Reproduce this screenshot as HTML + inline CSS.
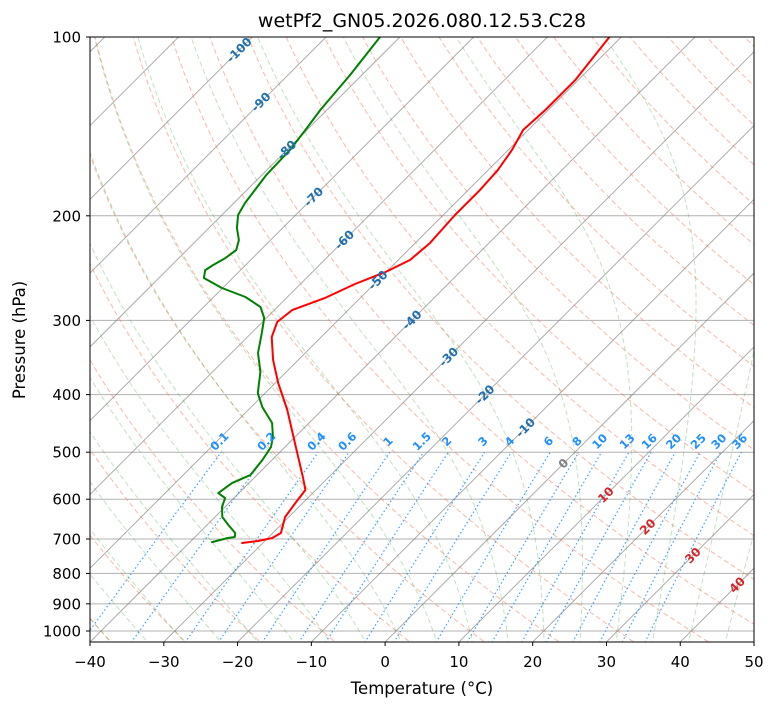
<!DOCTYPE html>
<html><head><meta charset="utf-8"><style>
html,body{margin:0;padding:0;background:#fff;}
svg{display:block;font-family:"DejaVu Sans","Liberation Sans",sans-serif;}
</style></head><body>
<svg id="chart" width="775" height="708" viewBox="0 0 775 708" xmlns="http://www.w3.org/2000/svg">
<defs><clipPath id="clip"><rect x="90" y="37" width="664" height="605"/></clipPath></defs>
<rect x="0" y="0" width="775" height="708" fill="#fff"/>
<text x="422" y="27" font-size="19" text-anchor="middle">wetPf2_GN05.2026.080.12.53.C28</text>
<g id="plot" clip-path="url(#clip)"></g>
<g id="labels"></g>
<rect x="90" y="37" width="664" height="605" fill="none" stroke="#000" stroke-width="1"/>
<g id="axes"></g>
<text x="422" y="694" font-size="16.5" text-anchor="middle">Temperature (°C)</text>
<text x="25" y="340" font-size="16.5" text-anchor="middle" transform="rotate(-90 25 340)">Pressure (hPa)</text>
</svg>
<script>
const tempP = [100,118.1,132.7,143.4,155.0,167.4,181.2,199.4,222.3,237.4,248.7,260.5,275.1,288.2,301.8,320.0,349.8,382.4,424.6,482.5,550.6,579,608.9,642.9,683.9,697.3,705.6,711.1];
const tempT = [-51.6,-50.4,-50.4,-50.7,-49.5,-48.7,-48.4,-48.4,-48.0,-48.4,-50.1,-52.6,-54.8,-57.6,-58.0,-56.7,-53.4,-49.6,-44.7,-39.2,-33.5,-31.4,-31.0,-30.5,-28.9,-29.4,-30.9,-32.8];
const dewP = [100,115.9,132.7,143.4,155.0,170.7,190.3,199.4,209.7,219.7,228.4,235.6,242.0,246.8,254.5,264.6,274.0,284.8,297.2,315.0,340.4,366.4,397.6,419.7,446.5,471.4,490.1,515.4,546.4,563.6,585.9,597.3,618.4,642.9,663.1,683.9,694.7,697.3,708.5];
const dewT = [-82.7,-81.6,-80.9,-80.2,-79.6,-79.4,-78.5,-77.8,-76.2,-74.3,-73.3,-73.7,-74.4,-74.8,-73.9,-70.1,-65.7,-62.3,-60.3,-58.6,-56.4,-53.5,-51.0,-48.5,-45.0,-43.0,-41.9,-41.3,-40.9,-42.3,-42.8,-41.2,-40.4,-39.0,-37.1,-35.1,-34.6,-35.4,-37.0];
const pressureTicks = [100,200,300,400,500,600,700,800,900,1000];
const tempTicks = [-40,-30,-20,-10,0,10,20,30,40,50];
const mixingRatios = [0.1,0.2,0.4,0.6,1,1.5,2,3,4,6,8,10,13,16,20,25,30,36];
const isoLabelVals = [-100,-90,-80,-70,-60,-50,-40,-30,-20,-10,0,10,20,30,40];
const isoLabelP = [105.2,128.7,155.0,185.9,219.6,256.7,299.5,345.8,400,454.8,522.6,590.2,667.8,746.4,836.7];

const NS='http://www.w3.org/2000/svg';
const L=90,R=754,T0=37,B=642,PXC=7.378,DEC=594;
function py(p){return T0+DEC*Math.log10(p/100);}
function tx(t,p){const y=py(p);return L+(t+40)*PXC+(B-y);}
function mk(tag,attrs,parent){const e=document.createElementNS(NS,tag);for(const k in attrs)e.setAttribute(k,attrs[k]);parent.appendChild(e);return e;}
const plot=document.getElementById('plot'),axes=document.getElementById('axes'),labels=document.getElementById('labels');
const pLevels=[];for(let p=1060;p>=95;p-=5)pLevels.push(p);
function pathFrom(fn){let d='';pLevels.forEach((p,i)=>{const t=fn(p);d+=(i?'L':'M')+tx(t,p).toFixed(1)+' '+py(p).toFixed(1);});return d;}

pressureTicks.forEach(p=>{
  const g=mk('line',{x1:L,x2:R,y1:py(p),y2:py(p),stroke:'#b0b0b0','stroke-width':1},plot);
  
  
});
for(let t=-130;t<=50;t+=10){
  const l=mk('line',{x1:tx(t,1060),y1:py(1060),x2:tx(t,95),y2:py(95),stroke:'#808080','stroke-opacity':0.65,'stroke-width':1},plot);
  
  
}
for(let th=-40;th<=210;th+=10){
  const e=mk('path',{d:pathFrom(p=>(th+273.15)*Math.pow(p/1000,0.2857)-273.15),fill:'none',stroke:'#f4764f','stroke-opacity':0.5,'stroke-width':1,'stroke-dasharray':'5,3'},plot);
  
  
}
function es(tc){return 6.112*Math.exp(17.67*tc/(tc+243.5));}
function dTdp(p,T){const tc=T-273.15,e=es(tc),rs=0.622*e/(p-e),Lv=2.501e6,Rd=287.04,Cp=1005.7;
  return (1/p)*(Rd*T+Lv*rs)/(Cp+(Lv*Lv*rs*0.622)/(Rd*T*T));}
function moist(t0){const res={};let T=t0+273.15;res[1000]=T;
  for(let p=1000;p>95;p-=5){const h=-5;const k1=dTdp(p,T),k2=dTdp(p+h/2,T+h/2*k1),k3=dTdp(p+h/2,T+h/2*k2),k4=dTdp(p+h,T+h*k3);T+=h/6*(k1+2*k2+2*k3+k4);res[p-5]=T;}
  T=t0+273.15;for(let p=1000;p<1060;p+=5){const h=5;const k1=dTdp(p,T),k2=dTdp(p+h/2,T+h/2*k1),k3=dTdp(p+h/2,T+h/2*k2),k4=dTdp(p+h,T+h*k3);T+=h/6*(k1+2*k2+2*k3+k4);res[p+5]=T;}
  return res;}
for(let t0=-50;t0<=50;t0+=5){
  const m=moist(t0);
  const e=mk('path',{d:pathFrom(p=>m[p]-273.15),fill:'none',stroke:'#2ca02c','stroke-opacity':0.3,'stroke-width':1,'stroke-dasharray':'5,3'},plot);
  
  
}
function tdFromW(w,p){const e=p*w/(622+w);const a=Math.log(e/6.112);return 243.5*a/(17.67-a);}
mixingRatios.forEach(w=>{
  let d='';let i=0;for(let p=1060;p>=500;p-=10){d+=(i++?'L':'M')+tx(tdFromW(w,p),p).toFixed(1)+' '+py(p).toFixed(1);}
  const e=mk('path',{d:d,fill:'none',stroke:'#1e90ff','stroke-opacity':0.85,'stroke-width':1.2,'stroke-dasharray':'1.5,2.5'},plot);
  
  
  const x=tx(tdFromW(w,500),500)+1,y=py(500)-8;
  const t=mk('text',{x:x,y:y,'font-size':11.5,'font-weight':'bold',fill:'#1e90ff','text-anchor':'middle',transform:`rotate(-45 ${x} ${y})`},labels);
  t.textContent=String(w);
  
  
});
isoLabelVals.forEach((v,i)=>{
  const p=isoLabelP[i];const x=tx(v,p),y=py(p);
  const col=v<0?'#2070b0':(v===0?'#808080':'#d62728');
  const t=mk('text',{x:x,y:y+4,'font-size':12,'font-weight':'bold',fill:col,'text-anchor':'middle',transform:`rotate(-45 ${x} ${y})`},labels);
  t.textContent=String(v);
  
  
});
function profile(P,Tv,color,name){
  let d='';P.forEach((p,i)=>{d+=(i?'L':'M')+tx(Tv[i],p).toFixed(1)+' '+py(p).toFixed(1);});
  const e=mk('path',{d:d,fill:'none',stroke:color,'stroke-width':2,'stroke-linejoin':'round','stroke-linecap':'round'},plot);
  
  
}
profile(tempP,tempT,'#ff0000','temperature-profile');
profile(dewP,dewT,'#008000','dewpoint-profile');
pressureTicks.forEach(p=>{
  const y=py(p);
  mk('line',{x1:L-4,x2:L,y1:y,y2:y,stroke:'#000'},axes);
  const t=mk('text',{x:L-9,y:y+5.5,'font-size':15,'text-anchor':'end'},axes);
  t.textContent=String(p);
  
  
});
tempTicks.forEach(v=>{
  const x=L+(v+40)*PXC;
  mk('line',{x1:x,x2:x,y1:B,y2:B+4,stroke:'#000'},axes);
  const t=mk('text',{x:x,y:B+25,'font-size':15,'text-anchor':'middle'},axes);
  t.textContent=v<0?'\u2212'+Math.abs(v):String(v);
  
  
});
</script>
</body></html>
